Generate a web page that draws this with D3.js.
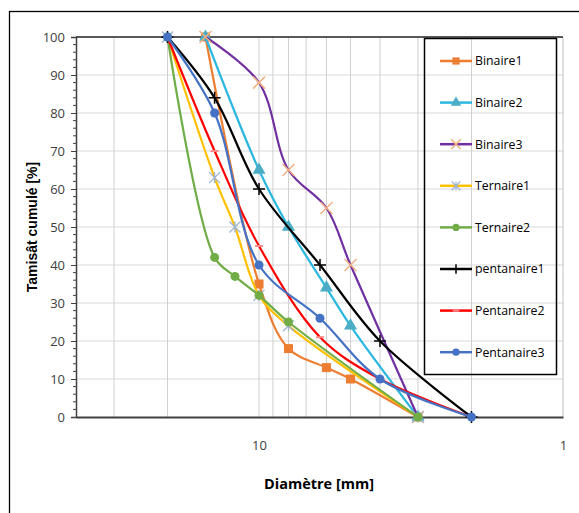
<!DOCTYPE html>
<html>
<head>
<meta charset="utf-8">
<script src="https://cdn.jsdelivr.net/npm/d3@7"></script>
<style>
  body { margin: 0; background: #fff; }
  svg { display: block; }
  .tick-label { font-family: 'Liberation Sans Narrow', 'Open Sans', sans-serif; font-size: 13px; fill: #404040; }
  .legend text { font-family: 'Liberation Sans Narrow', 'Open Sans', sans-serif; font-size: 12.3px; fill: #000; }
</style>
</head>
<body>
<svg width="579" height="513"></svg>
<script>
'use strict';

// sieve sizes (mm) and cumulative passing (%)
var binaireX = [15, 10, 8, 6, 5, 3];
var binaire1 = [100, 35, 18, 13, 10, 0];
var binaire2 = [100, 65, 50, 34, 24, 0];
var binaire3 = [100, 88, 65, 55, 40, 0];

var ternaireX = [20, 14, 12, 10, 8, 3];
var ternaire1 = [100, 63, 50, 32, 24, 0];
var ternaire2 = [100, 42, 37, 32, 25, 0];

var pentaX = [20, 14, 10, 6.3, 4, 2];
var pentanaire1 = [100, 84, 60, 40, 20, 0];
var pentanaire2 = [100, 70, 45, 21, 10, 0];
var pentanaire3 = [100, 80, 40, 26, 10, 0];

var yTicks = [0, 10, 20, 30, 40, 50, 60, 70, 80, 90, 100];
var xGrid = [30, 20, 10, 9, 8, 7, 6, 5, 4, 3, 2];
var xLabels = [10, 1];

var series = [
  { name: 'Binaire1', xs: binaireX, ys: binaire1, color: '#ED7D31', marker: 'square', mcolor: '#ED7D31' },
  { name: 'Binaire2', xs: binaireX, ys: binaire2, color: '#2CB7E0', marker: 'triangle', mcolor: '#4BACC6' },
  { name: 'Binaire3', xs: binaireX, ys: binaire3, color: '#7030A0', marker: 'cross', mcolor: '#F4B183' },
  { name: 'Ternaire1', xs: ternaireX, ys: ternaire1, color: '#FFC000', marker: 'star', mcolor: '#9DB4D2' },
  { name: 'Ternaire2', xs: ternaireX, ys: ternaire2, color: '#70AD47', marker: 'circle', mcolor: '#70AD47' },
  { name: 'pentanaire1', xs: pentaX, ys: pentanaire1, color: '#000000', marker: 'plus', mcolor: '#000000' },
  { name: 'Pentanaire2', xs: pentaX, ys: pentanaire2, color: '#FF0000', marker: 'dash', mcolor: '#FF8A8A' },
  { name: 'Pentanaire3', xs: pentaX, ys: pentanaire3, color: '#4472C4', marker: 'circle', mcolor: '#4472C4' }
];

var PLOT = { left: 76, right: 563, top: 37, bottom: 417 };

var svg = d3.select('svg');

// outer chart frame (cropped on right and bottom)
svg.append('rect')
  .attr('x', 9.5).attr('y', 11.5)
  .attr('width', 600).attr('height', 600)
  .attr('fill', 'none').attr('stroke', '#000').attr('stroke-width', 1.3);

var xScale = d3.scaleLog().domain([40, 1]).range([PLOT.left, PLOT.right]);
var yScale = d3.scaleLinear().domain([0, 100]).range([PLOT.bottom, PLOT.top]);

// grid
var grid = svg.append('g').attr('class', 'grid');
grid.selectAll('line.h').data(yTicks.slice(1, -1)).enter().append('line')
  .attr('x1', PLOT.left).attr('x2', PLOT.right)
  .attr('y1', function(d) { return yScale(d); })
  .attr('y2', function(d) { return yScale(d); })
  .attr('stroke', '#D9D9D9').attr('stroke-width', 1);
grid.selectAll('line.v').data(xGrid).enter().append('line')
  .attr('x1', function(d) { return xScale(d); })
  .attr('x2', function(d) { return xScale(d); })
  .attr('y1', PLOT.top).attr('y2', PLOT.bottom)
  .attr('stroke', '#D0D0D0').attr('stroke-width', 1);
grid.append('line')
  .attr('x1', PLOT.right).attr('x2', PLOT.right)
  .attr('y1', PLOT.top).attr('y2', PLOT.bottom)
  .attr('stroke', '#BFBFBF');

// top border
svg.append('line')
  .attr('x1', PLOT.left).attr('x2', PLOT.right)
  .attr('y1', PLOT.top).attr('y2', PLOT.top)
  .attr('stroke', '#222').attr('stroke-width', 1.5);

// y axis
var yAxis = d3.axisLeft(yScale).tickValues(yTicks).tickSize(5).tickPadding(6);
var gy = svg.append('g')
  .attr('transform', 'translate(' + PLOT.left + ',0)')
  .call(yAxis);
gy.select('.domain').attr('stroke', '#404040').attr('stroke-width', 1.5);
gy.selectAll('.tick line').attr('stroke', '#404040');
gy.selectAll('text').attr('class', 'tick-label').attr('font-size', null).attr('font-family', null);

var minor = d3.range(0, 101, 2).filter(function(v) { return v % 10 !== 0; });
svg.append('g').selectAll('line').data(minor).enter().append('line')
  .attr('x1', PLOT.left - 3).attr('x2', PLOT.left)
  .attr('y1', function(d) { return yScale(d); })
  .attr('y2', function(d) { return yScale(d); })
  .attr('stroke', '#404040');

// x axis
var xAxis = d3.axisBottom(xScale).tickValues(xLabels).tickSize(0).tickPadding(24)
  .tickFormat(d3.format('d'));
var gx = svg.append('g')
  .attr('transform', 'translate(0,' + PLOT.bottom + ')')
  .call(xAxis);
gx.select('.domain').attr('stroke', '#404040').attr('stroke-width', 2);
gx.selectAll('text').attr('class', 'tick-label').attr('font-size', null).attr('font-family', null);

// titles
svg.append('text')
  .attr('transform', 'translate(37,227) rotate(-90)')
  .attr('text-anchor', 'middle')
  .attr('font-family', 'Liberation Sans, Arial, sans-serif')
  .attr('font-weight', 'bold').attr('font-size', 14)
  .text('Tamisât cumulé [%]');

svg.append('text')
  .attr('x', 319).attr('y', 489)
  .attr('text-anchor', 'middle')
  .attr('font-family', "'Liberation Sans Narrow', 'Open Sans', sans-serif")
  .attr('font-weight', 'bold').attr('font-size', 14.5)
  .text('Diamètre [mm]');

function drawMarker(g, type, color, s) {
  if (type === 'square') {
    g.append('rect').attr('x', -s / 2).attr('y', -s / 2).attr('width', s).attr('height', s).attr('fill', color);
  } else if (type === 'triangle') {
    g.append('path').attr('d', d3.symbol(d3.symbolTriangle, s * s * 0.75)()).attr('fill', color);
  } else if (type === 'circle') {
    g.append('circle').attr('r', s / 2).attr('fill', color);
  } else if (type === 'cross') {
    g.append('path').attr('d', 'M' + (-s / 2) + ',' + (-s / 2) + 'L' + (s / 2) + ',' + (s / 2) +
      'M' + (-s / 2) + ',' + (s / 2) + 'L' + (s / 2) + ',' + (-s / 2))
      .attr('stroke', color).attr('stroke-width', 1.5);
  } else if (type === 'star') {
    g.append('path').attr('d', 'M' + (-s / 2) + ',' + (-s / 2) + 'L' + (s / 2) + ',' + (s / 2) +
      'M' + (-s / 2) + ',' + (s / 2) + 'L' + (s / 2) + ',' + (-s / 2) +
      'M0,' + (-s / 2) + 'L0,' + (s / 2))
      .attr('stroke', color).attr('stroke-width', 1.3);
  } else if (type === 'plus') {
    g.append('path').attr('d', 'M' + (-s / 2) + ',0L' + (s / 2) + ',0M0,' + (-s / 2) + 'L0,' + (s / 2))
      .attr('stroke', color).attr('stroke-width', 1.5);
  } else if (type === 'dash') {
    g.append('path').attr('d', 'M' + (-s / 2) + ',0L' + (s / 2) + ',0')
      .attr('stroke', color).attr('stroke-width', 2);
  }
}

var line = d3.line()
  .x(function(d) { return xScale(d[0]); })
  .y(function(d) { return yScale(d[1]); })
  .curve(d3.curveCatmullRom.alpha(0.5));

var markerSize = { square: 9, triangle: 10, circle: 9, cross: 12, star: 11, plus: 12, dash: 8 };

series.forEach(function(s) {
  var pts = s.xs.map(function(x, i) { return [x, s.ys[i]]; });
  var g = svg.append('g').attr('class', 'series');
  g.append('path')
    .datum(pts)
    .attr('d', line)
    .attr('fill', 'none')
    .attr('stroke', s.color)
    .attr('stroke-width', 2.2);
  pts.forEach(function(p) {
    var m = g.append('g').attr('transform', 'translate(' + xScale(p[0]) + ',' + yScale(p[1]) + ')');
    drawMarker(m, s.marker, s.mcolor, markerSize[s.marker]);
  });
});

// legend
var legend = svg.append('g').attr('class', 'legend');
legend.append('rect')
  .attr('x', 424.5).attr('y', 38.5).attr('width', 132).attr('height', 336)
  .attr('fill', 'none').attr('stroke', '#000').attr('stroke-width', 1.5);

series.forEach(function(s, i) {
  var yy = 61 + i * 41.6;
  var item = legend.append('g').attr('transform', 'translate(0,' + yy + ')');
  item.append('line').attr('x1', 440).attr('x2', 472).attr('y1', 0).attr('y2', 0)
    .attr('stroke', s.color).attr('stroke-width', 2.5);
  var m = item.append('g').attr('transform', 'translate(456,0)');
  drawMarker(m, s.marker, s.mcolor, markerSize[s.marker] * 0.8);
  item.append('text').attr('x', 475).attr('y', 0).attr('dy', '0.35em').text(s.name);
});
</script>
</body>
</html>
